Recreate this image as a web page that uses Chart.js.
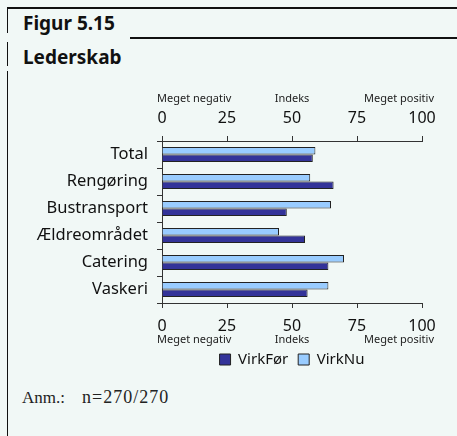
<!DOCTYPE html>
<html>
<head>
<meta charset="utf-8">
<script src="https://cdn.jsdelivr.net/npm/chart.js@4/dist/chart.umd.min.js"></script>
<style>
    body { margin: 0; width: 457px; height: 436px; background: #f1f8f6; position: relative; overflow: hidden; font-family: "Noto Sans", sans-serif; }
    .line { position: absolute; background: #111; }
    .title { position: absolute; left: 23px; font-weight: bold; font-size: 19px; color: #111; line-height: 24px; }
    #note { position: absolute; left: 22px; top: 388px; font-family: "Liberation Serif", serif; font-size: 17px; color: #222; white-space: nowrap; }
    #note span { position: absolute; left: 60px; top: -1px; font-size: 18px; letter-spacing: 1px; }
    #chartBox { position: absolute; left: 0; top: 80px; width: 457px; height: 297px; }
</style>
</head>
<body>
<div class="line" style="left:7px; top:7px; width:450px; height:2px;"></div>
<div class="line" style="left:130px; top:37px; width:327px; height:2px;"></div>
<div class="line" style="left:7px; top:9px; width:1px; height:24px;"></div>
<div class="line" style="left:7px; top:42px; width:1px; height:24px;"></div>
<div class="line" style="left:7px; top:71px; width:1px; height:365px;"></div>
<div class="title" style="top:11px;">Figur 5.15</div>
<div class="title" style="top:45px;">Lederskab</div>
<div id="chartBox"><canvas id="lederskab-graph"></canvas></div>
<div id="note">Anm.:<span>n=270/270</span></div>

<script>
var categories = ['Total', 'Rengøring', 'Bustransport', 'Ældreområdet', 'Catering', 'Vaskeri'];
var virkNu = [59, 57, 65, 45, 70, 64];
var virkFoer = [58, 66, 48, 55, 64, 56];
var tickValues = [0, 25, 50, 75, 100];
var scaleWords = ['Meget negativ', 'Indeks', 'Meget positiv'];

var fontName = '"Noto Sans", sans-serif';

// words above the top axis and below the bottom axis
var scaleWordsPlugin = {
    id: 'scaleWords',
    afterDraw: function(chart) {
        var ctx = chart.ctx;
        var xTop = chart.scales.xTop;
        var x = chart.scales.x;
        ctx.save();
        ctx.fillStyle = '#222';
        ctx.font = '11px ' + fontName;
        ctx.textBaseline = 'middle';
        [[xTop, xTop.bottom - 42], [x, x.top + 36.5]].forEach(function(item) {
            var s = item[0], y = item[1];
            ctx.textAlign = 'left';
            ctx.fillText(scaleWords[0], s.getPixelForValue(0) - 5, y);
            ctx.textAlign = 'center';
            ctx.fillText(scaleWords[1], s.getPixelForValue(50), y);
            ctx.textAlign = 'right';
            ctx.fillText(scaleWords[2], s.getPixelForValue(100) + 12, y);
        });
        ctx.restore();
    }
};

function valueAxis(position, height, padding) {
    return {
        position: position,
        min: 0,
        max: 100,
        afterBuildTicks: function(axis) {
            axis.ticks = tickValues.map(function(v) { return { value: v }; });
        },
        afterFit: function(axis) { axis.height = height; },
        grid: { drawOnChartArea: false, color: '#333', tickLength: 5, tickWidth: 1 },
        border: { color: '#333', width: 1 },
        ticks: { color: '#111', padding: padding, maxRotation: 0, font: { size: 16, family: fontName } }
    };
}

function drawLederskabChart() {
    var ctx = document.getElementById('lederskab-graph').getContext('2d');
    new Chart(ctx, {
        type: 'bar',
        data: {
            labels: categories,
            datasets: [{
                label: 'VirkNu',
                data: virkNu,
                backgroundColor: '#99ccff',
                borderColor: '#222',
                borderWidth: 1
            }, {
                label: 'VirkFør',
                data: virkFoer,
                backgroundColor: '#333399',
                borderColor: '#222',
                borderWidth: 1
            }]
        },
        options: {
            indexAxis: 'y',
            animation: false,
            responsive: true,
            maintainAspectRatio: false,
            layout: { padding: { left: 0, right: 35, top: 0, bottom: 0 } },
            datasets: { bar: { categoryPercentage: 0.56, barPercentage: 1 } },
            scales: {
                xTop: Object.assign(valueAxis('top', 61, 8), { axis: 'x' }),
                x: valueAxis('bottom', 39, 9),
                y: {
                    afterFit: function(axis) { axis.width = 162; },
                    grid: { drawOnChartArea: false, offset: true, color: '#333', tickLength: 5 },
                    border: { color: '#333', width: 1 },
                    ticks: { color: '#111', padding: 9, font: { size: 16.5, family: fontName } }
                }
            },
            plugins: {
                legend: {
                    position: 'bottom',
                    fullSize: false,
                    reverse: true,
                    labels: {
                        boxWidth: 11,
                        boxHeight: 11,
                        padding: 10,
                        color: '#111',
                        font: { size: 15, family: fontName }
                    }
                },
                tooltip: { enabled: false }
            }
        },
        plugins: [scaleWordsPlugin]
    });
}

document.addEventListener('DOMContentLoaded', drawLederskabChart);
</script>
</body>
</html>
